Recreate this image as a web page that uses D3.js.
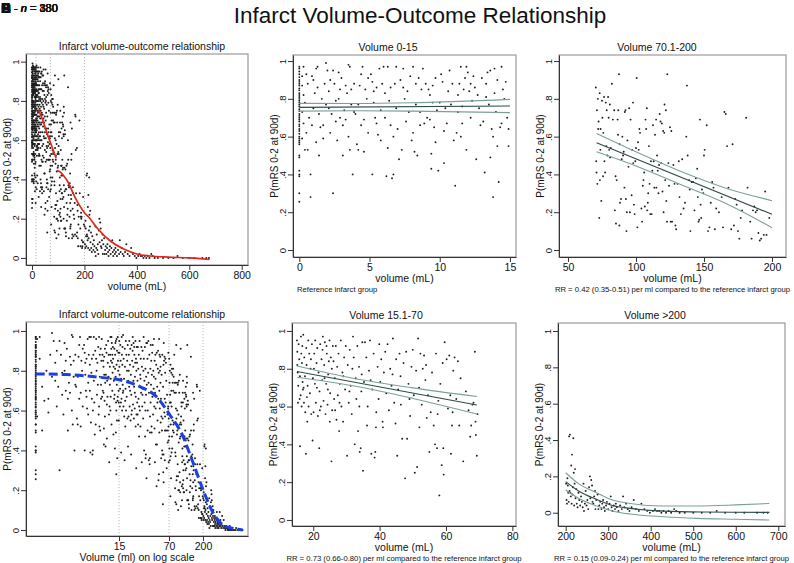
<!DOCTYPE html>
<html><head><meta charset="utf-8">
<script src="https://cdn.jsdelivr.net/npm/d3@7"></script>
<style>body{margin:0;background:#fff} text{font-family:"Liberation Sans",Arial,sans-serif;fill:#111}</style>
</head><body>
<svg id="c" width="794" height="563"></svg>
<script>
// ---------- data: (volume mL, P(mRS 0-2 at 90d)) ----------
const pts0to15 = [
[0,.97],[0,.96],[0,.945],[0,.93],[0,.915],[0,.90],[0,.89],[0,.88],[0,.87],[0,.855],[0,.845],[0,.83],[0,.82],[0,.81],[0,.80],[0,.79],[0,.78],[0,.77],[0,.76],[0,.745],[0,.735],[0,.72],[0,.71],[0,.70],[0,.69],[0,.68],[0,.665],[0,.655],[0,.64],[0,.63],[0,.615],[0,.60],[0,.59],[0,.58],[0,.57],[0,.56],[0,.50],[0,.49],[0,.42],[0,.40],[0,.39],[0,.30],[0,.255],
[.2,.92],[.3,.97],[.2,.87],[.3,.82],[.4,.78],[.2,.73],[.5,.93],[.6,.88],[.7,.70],[.3,.67],[.5,.62],[.8,.40],[.8,.28],[.9,.92],[.9,.66],[.4,.53],[.6,.53],[.2,.59],
[1.0,.90],[1.1,.83],[1.2,.96],[1.3,.97],[1.3,.86],[1.4,.72],[1.5,.65],[1.4,.50],[1.6,.80],[1.7,.66],[1.8,.88],[1.9,.99],[1.2,.57],[1.9,.77],[1.0,.75],[1.7,.59],
[2.0,.95],[2.1,.84],[2.2,.62],[2.3,.72],[2.4,.95],[2.4,.30],[2.5,.88],[2.6,.79],[2.7,.58],[2.8,.94],[2.9,.85],[2.9,.70],[2.2,.90],[2.6,.68],[2.1,.75],[2.8,.80],
[3.0,.91],[3.1,.50],[3.2,.74],[3.3,.69],[3.4,.83],[3.5,.98],[3.5,.60],[3.6,.97],[3.7,.77],[3.8,.40],[3.9,.88],[3.3,.87],[3.6,.53],[3.9,.73],[3.1,.66],[3.7,.85],
[4.0,.72],[4.1,.56],[4.2,.53],[4.3,.87],[4.4,.93],[4.5,.97],[4.6,.52],[4.6,.69],[4.7,.85],[4.8,.80],[4.9,.62],[4.2,.77],[4.4,.66],[4.9,.91],
[5.1,.93],[5.2,.40],[5.3,.78],[5.4,.70],[5.5,.86],[5.6,.61],[5.7,.96],[5.8,.74],[5.9,.88],[5.3,.84],[5.5,.67],[5.8,.58],[5.2,.89],
[6.0,.97],[6.1,.83],[6.2,.39],[6.3,.97],[6.3,.54],[6.4,.79],[6.5,.66],[6.6,.38],[6.7,.40],[6.7,.60],[6.8,.88],[6.9,.97],[6.1,.70],[6.5,.86],[6.9,.75],
[7.1,.48],[7.2,.90],[7.3,.53],[7.4,.96],[7.5,.80],[7.6,.68],[7.7,.84],[7.9,.92],[7.0,.64],[7.8,.73],[7.4,.86],
[8.0,.58],[8.1,.97],[8.2,.52],[8.3,.77],[8.4,.50],[8.5,.91],[8.6,.66],[8.7,.85],[8.8,.96],[8.9,.67],[8.3,.88],[8.6,.73],[8.1,.62],
[9.0,.88],[9.1,.70],[9.2,.85],[9.3,.69],[9.4,.51],[9.4,.43],[9.5,.78],[9.6,.65],[9.7,.91],[9.8,.74],[9.9,.42],[9.3,.82],[9.5,.87],[9.7,.57],
[10.0,.78],[10.1,.93],[10.2,.89],[10.3,.46],[10.4,.75],[10.5,.67],[10.6,.84],[10.8,.77],[10.9,.88],[10.3,.63],[10.7,.95],
[11.0,.58],[11.1,.34],[11.2,.62],[11.3,.73],[11.4,.88],[11.5,.97],[11.6,.67],[11.7,.85],[11.8,.91],[11.9,.53],[11.3,.82],[11.6,.76],[11.9,.97],[11.5,.60],
[12.0,.94],[12.1,.84],[12.2,.70],[12.3,.79],[12.5,.86],[12.6,.48],[12.7,.82],[12.8,.75],[12.9,.66],[12.4,.92],[12.2,.88],
[13.0,.91],[13.1,.68],[13.2,.41],[13.3,.81],[13.4,.94],[13.5,.77],[13.6,.49],[13.7,.64],[13.8,.28],[13.9,.83],[13.6,.95],[13.3,.88],[13.8,.60],[13.9,.96],
[14.0,.73],[14.1,.55],[14.2,.36],[14.3,.65],[14.4,.97],[14.5,.85],[14.6,.80],[14.7,.89],[14.8,.70],[14.9,.55],[14.9,.64],[14.1,.90],[14.4,.67]
];
const pts15to70 = [
[15.1,.95],[15.2,.82],[15.3,.78],[15.2,.89],[15.4,.62],[15.5,.71],[15.6,.93],[15.8,.85],[16.0,.76],[16.0,.39],[16.2,.66],[16.3,.97],[16.4,.88],[16.5,.60],[16.6,.83],[16.8,.73],[16.9,.69],[15.9,.64],[16.7,.92],
[17.0,.98],[17.2,.62],[17.3,.86],[17.5,.76],[17.6,.57],[17.8,.35],[17.9,.91],[18.0,.82],[18.2,.52],[18.3,.71],[18.5,.95],[18.6,.60],[18.8,.88],[19.0,.67],[19.2,.80],[19.4,.56],[19.6,.93],[19.8,.42],[19.9,.75],[18.1,.65],[17.1,.70],[19.3,.85],
[20.1,.57],[20.3,.88],[20.5,.72],[20.6,.95],[20.8,.62],[21.0,.83],[21.2,.91],[21.4,.55],[21.6,.78],[21.8,.38],[21.9,.68],[22.1,.93],[22.3,.60],[22.5,.85],[22.7,.74],[22.9,.97],[20.2,.80],[21.1,.70],[22.0,.58],[22.8,.90],
[23.1,.63],[23.3,.82],[23.5,.94],[23.7,.56],[23.9,.72],[24.1,.88],[24.3,.61],[24.5,.77],[24.7,.84],[24.9,.95],[25.1,.67],[25.3,.86],[25.5,.31],[25.7,.58],[25.9,.92],[23.4,.75],[24.4,.69],[25.6,.80],[24.0,.92],[25.0,.52],
[26.1,.84],[26.3,.64],[26.5,.75],[26.8,.92],[27.0,.53],[27.2,.81],[27.4,.66],[27.6,.88],[27.8,.47],[28.0,.72],[28.3,.95],[28.5,.60],[28.8,.78],[29.0,.52],[29.3,.86],[29.6,.69],[29.8,.92],[26.6,.58],[27.9,.62],[29.1,.76],
[30.2,.34],[30.4,.82],[30.7,.62],[31.0,.90],[31.3,.71],[31.6,.56],[32.0,.97],[32.2,.86],[32.5,.40],[32.8,.75],[33.0,.64],[33.3,.92],[33.5,.47],[33.8,.81],[34.0,.36],[34.3,.38],[34.5,.68],[34.8,.94],[35.0,.26],[31.8,.80],[33.9,.60],[34.6,.77],[30.9,.68],
[35.3,.73],[35.6,.94],[36.0,.86],[36.4,.60],[36.8,.79],[37.1,.95],[37.5,.35],[37.8,.69],[38.2,.88],[38.5,.33],[38.7,.36],[39.0,.57],[39.4,.81],[39.7,.64],[36.2,.50],[37.3,.74],[38.9,.49],[39.9,.93],
[40.2,.73],[40.5,.85],[40.9,.52],[41.3,.78],[41.7,.89],[42.0,.67],[42.4,.93],[42.8,.58],[43.2,.80],[43.6,.71],[44.0,.96],[44.4,.62],[44.8,.51],[45.0,.85],[45.3,.34],[41.0,.49],[43.9,.77],
[45.6,.69],[46.0,.88],[46.4,.61],[46.8,.43],[47.2,.83],[47.7,.22],[48.0,.89],[48.3,.43],[48.7,.72],[49.2,.55],[49.6,.81],[50.0,.90],[50.3,.66],[50.6,.25],[46.3,.76],[49.0,.64],
[51.0,.79],[51.3,.28],[51.6,.96],[51.9,.70],[52.3,.88],[52.7,.61],[53.0,.80],[53.4,.87],[53.8,.74],[54.2,.54],[54.6,.66],[55.0,.36],[52.0,.49],[54.0,.82],
[55.4,.57],[55.8,.78],[56.3,.50],[56.7,.40],[57.0,.88],[57.3,.38],[57.7,.63],[58.0,.13],[58.3,.72],[58.7,.29],[59.0,.83],[59.2,.38],[59.3,.24],[59.6,.94],[57.5,.56],
[60.2,.85],[60.6,.59],[61.0,.87],[61.3,.66],[61.5,.35],[61.8,.50],[62.2,.79],[62.6,.86],[63.1,.64],[63.6,.84],[64.0,.50],[64.4,.75],[65.2,.31],[62.0,.57],
[66.0,.68],[66.8,.58],[67.3,.44],[67.6,.50],[68.0,.61],[68.3,.62],[68.7,.89],[69.0,.45],[69.3,.34],[69.5,.56],[68.9,.52]
];
const pts70to200 = [
[70.5,.86],[70.8,.47],[71,.41],[71.3,.74],[71.6,.35],[72,.80],[72.2,.64],[72.5,.68],[73,.17],[73.3,.83],[73.5,.37],[73.8,.53],[74,.64],[74.5,.26],[75,.79],[75.3,.70],[75.8,.39],[76,.62],[76.5,.81],[76.8,.47],[77.3,.41],[77.8,.78],[78.2,.55],[78.5,.74],[79,.50],[79.5,.81],[79.9,.70],[80.3,.53],[80.8,.77],[81,.49],[81.5,.54],
[82.3,.88],[83,.69],[84,.74],[84.5,.21],[85,.39],[85.3,.14],[85.8,.37],[86.5,.69],[86.8,.61],[87,.74],[87.5,.93],[87.8,.13],[88,.56],[88.3,.25],[89,.27],[89.5,.48],[90,.60],[90.5,.50],[91,.52],[91.5,.33],[91.8,.73],[92.3,.74],[92.6,.27],[93,.10],[93.3,.20],[93.7,.58],[94.5,.44],[95,.75],[95.5,.20],
[96,.69],[96.8,.29],[97.2,.53],[97.8,.78],[98,.46],[98.5,.24],[99,.19],[99.5,.47],[100,.54],[100.5,.91],[101,.12],[101.5,.57],[102,.53],[102.5,.64],[103,.62],[104,.22],[104.5,.15],[105,.34],[105.5,.37],[106,.41],[106.5,.23],[107,.69],[107.5,.64],[108,.75],[108.3,.21],[108.7,.25],[109,.30],[109.5,.55],[110,.35],[110.5,.19],[111,.47],[111.5,.19],
[112,.42],[112.5,.66],[113,.47],[113.5,.33],[114,.61],[114.8,.69],[115,.33],[115.5,.50],[116,.42],[116.5,.30],[117,.45],[117.4,.72],[118,.68],[118.5,.46],[119,.67],[119.5,.31],[120,.63],[120.3,.20],[120.8,.62],[121,.77],[121.5,.37],[122,.74],[122.3,.26],[122.8,.15],[123,.93],[123.8,.46],[124.3,.34],[125,.65],[125.5,.15],[126,.63],[126.5,.15],[127.5,.45],[128.3,.35],[129,.13],[129.5,.11],
[130.5,.35],[131.5,.47],[132,.28],[133,.19],[134,.48],[135,.22],[136,.25],[137,.60],[137.5,.87],[138,.50],[139,.37],[139.5,.32],[140,.10],[141,.36],[142,.36],[143,.21],[144,.38],[145,.43],[145.5,.28],[146,.15],[146.5,.16],[147,.69],[147.5,.24],[148,.17],[148.5,.32],[149.5,.30],[150,.50],[150.5,.53],
[152,.66],[153,.10],[154,.12],[155,.25],[156,.36],[157,.33],[158,.11],[159,.22],[161,.20],[163,.28],[164,.12],[165,.73],[166,.72],[167,.55],[168,.33],[170,.11],[171,.56],[172,.13],[173,.27],[174,.24],[175,.10],[176,.06],[177,.17],[178,.21],[181,.70],[182,.33],[184,.15],[185,.06],[186,.21],[187,.23],[188,.20],[189,.21],[190,.09],[191,.05],[192,.06],[194,.08],[195,.31],[196,.08],[198,.17]
];
const ptsOver200 = [
[201,.16],[202,.07],[203,.05],[204,.19],[205,.15],[206,.11],[207,.06],[208,.42],[209,.12],[210,.43],[211,.11],[212,.09],[213,.26],[214,.05],[215,.32],[216,.10],[217,.14],[218,.41],[219,.22],[220,.04],[221,.16],[222,.24],[223,.08],[225,.13],[226,.05],[228,.03],[230,.11],[232,.07],[234,.04],[236,.09],[238,.06],[240,.03],[242,.16],[243,.01],[245,.05],[247,.12],[249,.04],[251,.07],[253,.02],[255,.14],[257,.20],[258,.08],[260,.18],[262,.15],[263,.06],[265,.05],[267,.09],[269,.12],[270,.02],[272,.07],[275,.10],[277,.02],[279,.04],[281,.06],[284,.02],[286,.05],[288,.07],[290,.03],[292,.01],[295,.04],[297,.06],[300,.02],[303,.05],[306,.09],[308,.03],[310,.01],[313,.04],[316,.02],[318,.05],[320,.03],[324,.01],[328,.04],[332,.02],[335,.09],[338,.03],[342,.05],[346,.02],[350,.01],[355,.03],[360,.07],[365,.02],[372,.01],[378,.05],[385,.02],[392,.01],[398,.00],[405,.01],[410,.02],[415,.01],[420,.01],[425,.00],[430,.01],[436,.00],[442,.01],[448,.00],[455,.02],[460,.01],[468,.00],[480,.00],[500,.00],[520,.00],[540,.00],[555,.01],[575,.00],[600,.00],[620,.00],[650,.00],[665,.00],[675,.00]
];
const allPts = [...pts0to15, ...pts15to70, ...pts70to200, ...ptsOver200];

// fitted curves
const lowessA = [[25,.755],[40,.705],[57,.636],[75,.57],[92,.508]];
const lowessB = [[95,.445],[105,.44],[120,.42],[140,.38],[160,.32],[180,.27],[200,.23],[215,.21],[250,.15],[300,.085],[350,.045],[400,.02],[450,.01],[520,.004],[600,0],[677,-.008]];
const logFit = [[1.0,.784],[3,.781],[8.4,.767],[15.5,.754],[28.6,.72],[47.5,.67],[72,.578],[103,.486],[148,.335],[201,.20],[275,.084],[372,.025],[508,.008],[680,0]];
const fit0 = [[0,.755],[15,.762]];
const up0 = [[0,.776],[4,.775],[8,.779],[15,.797]];
const lo0 = [[0,.735],[4,.737],[8,.735],[15,.727]];
const fit3 = [[71,.568],[200,.189]];
const up3 = [[71,.617],[100,.52],[135,.41],[165,.33],[200,.261]];
const lo3 = [[71,.52],[100,.445],[135,.34],[165,.25],[200,.118]];
const fit5 = [[15.1,.785],[69.3,.608]];
const up5 = [[15.1,.815],[32,.75],[50,.699],[69.3,.653]];
const lo5 = [[15.1,.755],[32,.71],[50,.643],[69.3,.561]];
const fit6 = [[200,.171],[230,.12],[273,.073],[310,.04],[351,.024],[430,.009],[520,.004],[679,.002]];
const up6 = [[200,.22],[230,.16],[273,.11],[310,.07],[351,.051],[430,.037],[509,.037],[600,.043],[679,.051]];
const lo6 = [[200,.125],[230,.08],[273,.037],[310,.01],[351,-.007],[430,-.022],[509,-.031],[600,-.036],[679,-.04]];

const yTicks = [0,.2,.4,.6,.8,1];
const yTickLabels = ["0",".2",".4",".6",".8","1"];
const cutoffs = [15,70,200];
const panelLetters = ["A","B","C","D","E","F"];
const nCounts = ["330","380","880","330","180","380"];
const mainTitle = "Infarct Volume-Outcome Relationship";
const yTitle = "P(mRS 0-2 at 90d)";

const panels = [
 {title:"Infarct volume-outcome relationship", tx:142, box:[26,248,54,265], xdom:[-23,824], ydom:[-0.036,1.039], xticks:[0,200,400,600,800], xlab:"volume (mL)", pts:allPts, ref:true, red:true, r:1},
 {title:"Volume 0-15", tx:388, box:[293,516,55,257], xdom:[-0.45,15.43], ydom:[-0.037,1.032], xticks:[0,5,10,15], xlab:"volume (mL)", sub:"Reference infarct group", subLeft:true, pts:pts0to15, fit:[fit0,up0,lo0], r:0.95},
 {title:"Volume 70.1-200", tx:657, box:[559,786,55,257], xdom:[43.4,210.3], ydom:[-0.037,1.032], xticks:[50,100,150,200], xlab:"volume (mL)", sub:"RR = 0.42 (0.35-0.51) per ml compared to the reference infarct group", pts:pts70to200, fit:[fit3,up3,lo3], r:0.95},
 {title:"Infarct volume-outcome relationship", tx:142, box:[26,248,322,536], xdom:[0.852,800], log:true, ydom:[-0.030,1.045], xticks:[15,70,200], xlab:"Volume (ml) on log scale", pts:allPts, ref:true, blue:true, r:1},
 {title:"Volume 15.1-70", tx:386, box:[292,516,323,526], xdom:[13.6,81.1], ydom:[-0.032,1.042], xticks:[20,40,60,80], xlab:"volume (mL)", sub:"RR = 0.73 (0.66-0.80) per ml compared to the reference infarct group", pts:pts15to70, fit:[fit5,up5,lo5], r:0.95},
 {title:"Volume >200", tx:655, box:[558,785,323,526], xdom:[181.9,715.8], ydom:[-0.073,1.044], xticks:[200,300,400,500,600,700], xlab:"volume (mL)", sub:"RR = 0.15 (0.09-0.24) per ml compared to the reference infarct group", pts:ptsOver200, fit:[fit6,up6,lo6], r:0.95}
];

const svg = d3.select("#c");
svg.append("rect").attr("width",794).attr("height",563).attr("fill","#fff");

// main title
svg.append("text").attr("x",420).attr("y",23).attr("text-anchor","middle").attr("font-size",22.5).text(mainTitle);
// overlapping panel letters and counts
panelLetters.forEach(l=>svg.append("text").attr("x",1).attr("y",13).attr("font-size",14).attr("font-weight","bold").text(l));
nCounts.forEach(n=>{
  const t = svg.append("text").attr("x",14).attr("y",12).attr("font-size",11);
  t.append("tspan").text("- ");
  t.append("tspan").attr("font-style","italic").text("n");
  t.append("tspan").text(" = " + n);
});

const LOG_FLOOR = 1.15;

panels.forEach(p=>{
  const [bx0,bx1,by0,by1] = p.box;
  const g = svg.append("g");
  const x = (p.log ? d3.scaleLog() : d3.scaleLinear()).domain(p.xdom).range([bx0,bx1]);
  const y = d3.scaleLinear().domain(p.ydom).range([by1,by0]);
  const xv = v => p.log ? x(Math.max(v, LOG_FLOOR)) : x(v);

  // frame
  g.append("rect").attr("x",bx0).attr("y",by0).attr("width",bx1-bx0).attr("height",by1-by0)
    .attr("fill","none").attr("stroke","#9a9a9a").attr("stroke-width",1.2);

  // reference cut-off lines
  if (p.ref) {
    g.selectAll("line.ref").data(cutoffs).join("line")
      .attr("x1",d=>x(d)).attr("x2",d=>x(d)).attr("y1",by0).attr("y2",by1)
      .attr("stroke","#a8a8a8").attr("stroke-width",0.8).attr("stroke-dasharray","1.2,1.8");
  }

  // points
  g.append("g").selectAll("circle").data(p.pts).join("circle")
    .attr("cx",d=>xv(d[0])).attr("cy",d=>y(d[1])).attr("r",p.r).attr("fill","#1e1e1e");

  const line = d3.line().x(d=>xv(d[0])).y(d=>y(d[1])).curve(d3.curveMonotoneX);
  if (p.fit) {
    g.append("path").attr("d",line(p.fit[1])).attr("fill","none").attr("stroke","#7aa09a").attr("stroke-width",1.1);
    g.append("path").attr("d",line(p.fit[2])).attr("fill","none").attr("stroke","#7aa09a").attr("stroke-width",1.1);
    g.append("path").attr("d",line(p.fit[0])).attr("fill","none").attr("stroke","#2d4b48").attr("stroke-width",1.1);
  }
  if (p.red) {
    [lowessA, lowessB].forEach(seg=>g.append("path").attr("d",line(seg)).attr("fill","none").attr("stroke","#e0261d").attr("stroke-width",1.7));
  }
  if (p.blue) {
    g.append("path").attr("d",line(logFit)).attr("fill","none").attr("stroke","#1d3fe0").attr("stroke-width",3).attr("stroke-dasharray","9,4");
  }

  // axes
  const ax = d3.axisBottom(x).tickValues(p.xticks).tickSize(5).tickSizeOuter(0).tickFormat(d=>String(d));
  const axg = g.append("g").attr("transform",`translate(0,${by1})`).call(ax);
  axg.select(".domain").attr("stroke","#333");
  axg.selectAll(".tick line").attr("stroke","#333");
  axg.selectAll(".tick text").attr("font-size",10.5).attr("font-family","Liberation Sans, Arial, sans-serif").attr("fill","#111").attr("y",7).attr("dy","0.71em");

  const ay = d3.axisLeft(y).tickValues(yTicks).tickSize(5).tickSizeOuter(0).tickFormat((d,i)=>yTickLabels[i]);
  const ayg = g.append("g").attr("transform",`translate(${bx0},0)`).call(ay);
  ayg.select(".domain").attr("stroke","#333");
  ayg.selectAll(".tick line").attr("stroke","#333");
  ayg.selectAll(".tick text").attr("font-size",9.5).attr("font-family","Liberation Sans, Arial, sans-serif").attr("fill","#111")
    .attr("x",0).attr("dy",null).attr("text-anchor","middle").attr("transform","translate(-7,0) rotate(-90)");

  // titles
  g.append("text").attr("x",p.tx).attr("y",by0-4).attr("text-anchor","middle").attr("font-size",10.5).text(p.title);
  g.append("text").attr("transform",`translate(${bx0-15.5},${(by0+by1)/2}) rotate(-90)`).attr("text-anchor","middle").attr("font-size",10).text(yTitle);
  g.append("text").attr("x",(bx0+bx1)/2).attr("y",by1+25).attr("text-anchor","middle").attr("font-size",10.5).text(p.xlab);
  if (p.sub) {
    g.append("text").attr("x",p.subLeft ? bx0+4 : (bx0+bx1)/2).attr("y",by1+35)
      .attr("text-anchor",p.subLeft ? "start" : "middle").attr("font-size",7.7).text(p.sub);
  }
});
</script>
</body></html>
